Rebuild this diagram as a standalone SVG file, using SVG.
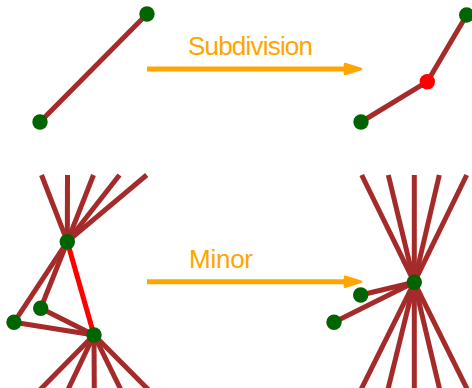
<svg xmlns="http://www.w3.org/2000/svg" width="472" height="388" viewBox="0 0 472 388">
  <style>
    .e { stroke: #A52A2A; stroke-width: 5; fill: none; }
    .r { stroke: #FF0000; stroke-width: 5; fill: none; }
    .a { stroke: #FFA500; stroke-width: 5; fill: none; marker-end: url(#ah); }
    .n { fill: #006400; }
    .nr { fill: #FF0000; }
    .t { fill: #FFA500; font-family: "Liberation Sans", Arial, sans-serif; font-size: 26px; }
  </style>
  <defs>
    <marker id="ah" markerUnits="userSpaceOnUse" markerWidth="20" markerHeight="17" refX="7" refY="8" orient="auto" viewBox="-2 -2 20 17" overflow="visible">
      <path d="M0,1.5 L16,6.5 L0,11.5 z" fill="#FFA500" stroke="#FFA500" stroke-width="2.5" stroke-linejoin="round" transform="translate(0,1.5)"/>
    </marker>
  </defs>
  <rect width="472" height="388" fill="#FFFFFF"/>
  <g id="connectors">
    <!-- top left -->
    <line class="e" x1="40" y1="122" x2="147" y2="14"/>
    <!-- top right -->
    <line class="e" x1="361" y1="122" x2="427.3" y2="81.7"/>
    <line class="e" x1="427.3" y1="81.7" x2="466.7" y2="15"/>
    <!-- bottom left fan top -->
    <line class="e" x1="67.3" y1="241.7" x2="41.5" y2="175"/>
    <line class="e" x1="67.3" y1="241.7" x2="67.5" y2="175"/>
    <line class="e" x1="67.3" y1="241.7" x2="93.5" y2="175"/>
    <line class="e" x1="67.3" y1="241.7" x2="119.5" y2="175"/>
    <line class="e" x1="67.3" y1="241.7" x2="146.7" y2="175"/>
    <!-- bottom left fan bottom -->
    <line class="e" x1="94" y1="335" x2="39.8" y2="390"/>
    <line class="e" x1="94" y1="335" x2="67.8" y2="390"/>
    <line class="e" x1="94" y1="335" x2="94.3" y2="390"/>
    <line class="e" x1="94" y1="335" x2="121" y2="390"/>
    <line class="e" x1="94" y1="335" x2="148.7" y2="390"/>
    <!-- bottom left triangle -->
    <line class="e" x1="67.3" y1="241.7" x2="14" y2="322.3"/>
    <line class="e" x1="67.3" y1="241.7" x2="40.7" y2="308.3"/>
    <line class="e" x1="14" y1="322.3" x2="94" y2="335"/>
    <line class="e" x1="40.7" y1="308.3" x2="94" y2="335"/>
    <line class="r" x1="67.3" y1="241.7" x2="94" y2="335"/>
    <!-- bottom right fan -->
    <line class="e" x1="414.3" y1="282.3" x2="361.7" y2="175"/>
    <line class="e" x1="414.3" y1="282.3" x2="388.3" y2="175"/>
    <line class="e" x1="414.3" y1="282.3" x2="414.3" y2="175"/>
    <line class="e" x1="414.3" y1="282.3" x2="439.3" y2="175"/>
    <line class="e" x1="414.3" y1="282.3" x2="466.7" y2="175"/>
    <line class="e" x1="414.3" y1="282.3" x2="360.8" y2="390"/>
    <line class="e" x1="414.3" y1="282.3" x2="387.8" y2="390"/>
    <line class="e" x1="414.3" y1="282.3" x2="414.3" y2="390"/>
    <line class="e" x1="414.3" y1="282.3" x2="439.8" y2="390"/>
    <line class="e" x1="414.3" y1="282.3" x2="467.6" y2="390"/>
    <line class="e" x1="414.3" y1="282.3" x2="360.7" y2="295"/>
    <line class="e" x1="414.3" y1="282.3" x2="334" y2="322.3"/>
    <!-- arrows -->
    <line class="a" x1="147" y1="69" x2="352" y2="69"/>
    <line class="a" x1="147" y1="281.7" x2="352" y2="281.7"/>
  </g>
  <g id="label-subdivision"><text class="t" x="188" y="55" textLength="125">Subdivision</text></g>
  <g id="label-minor"><text class="t" x="189" y="268.3" textLength="64">Minor</text></g>
  <g id="tl-a"><circle class="n" cx="147" cy="14" r="7.7"/></g>
  <g id="tl-b"><circle class="n" cx="40" cy="122" r="7.7"/></g>
  <g id="tr-a"><circle class="n" cx="466.7" cy="15" r="7.7"/></g>
  <g id="tr-mid"><circle class="nr" cx="427.3" cy="81.7" r="7.7"/></g>
  <g id="tr-b"><circle class="n" cx="361" cy="122" r="7.7"/></g>
  <g id="bl-top"><circle class="n" cx="67.3" cy="241.7" r="7.7"/></g>
  <g id="bl-bottom"><circle class="n" cx="94" cy="335" r="7.7"/></g>
  <g id="bl-left"><circle class="n" cx="14" cy="322.3" r="7.7"/></g>
  <g id="bl-inner"><circle class="n" cx="40.7" cy="308.3" r="7.7"/></g>
  <g id="br-center"><circle class="n" cx="414.3" cy="282.3" r="7.7"/></g>
  <g id="br-a"><circle class="n" cx="360.7" cy="295" r="7.7"/></g>
  <g id="br-b"><circle class="n" cx="334" cy="322.3" r="7.7"/></g>
</svg>
